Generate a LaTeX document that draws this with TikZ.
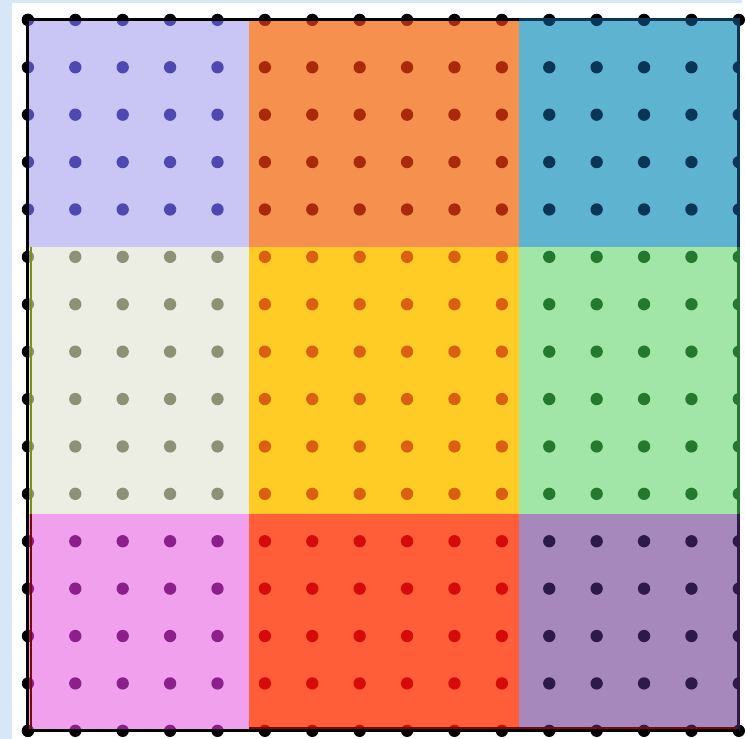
\documentclass[tikz,border=0pt]{standalone}
\definecolor{GSky}{HTML}{D8E7F5}
\definecolor{GLavender}{HTML}{C9C5F5}
\definecolor{GLavenderDot}{HTML}{4F48B0}
\definecolor{GOrange}{HTML}{F5904F}
\definecolor{GOrangeDot}{HTML}{A82A0A}
\definecolor{GTeal}{HTML}{5EB3D0}
\definecolor{GTealDot}{HTML}{0B3556}
\definecolor{GCream}{HTML}{ECEDE3}
\definecolor{GCreamDot}{HTML}{8E9178}
\definecolor{GGold}{HTML}{FFCB25}
\definecolor{GGoldDot}{HTML}{D9600F}
\definecolor{GMint}{HTML}{A1E6A7}
\definecolor{GMintDot}{HTML}{24792F}
\definecolor{GPink}{HTML}{F0A0EC}
\definecolor{GPinkDot}{HTML}{8D1F8D}
\definecolor{GRed}{HTML}{FF5E38}
\definecolor{GRedDot}{HTML}{D70A0A}
\definecolor{GPlum}{HTML}{A688BC}
\definecolor{GPlumDot}{HTML}{2E1A48}
\definecolor{GEdgeRed}{HTML}{7A0A0A}
\definecolor{GEdgeOlive}{HTML}{7E8E1A}
\usepackage{tikz}
\newcommand{\gpatch}[6]{% {x1}{y1}{x2}{y2}{fill}{dot colour}
  \begin{scope}
    \clip (#1,#2) rectangle (#3,#4);
    \fill[#5] (#1,#2) rectangle (#3,#4);
    \foreach \gx in {0,...,15}
      \foreach \gy in {0,...,15}
        \fill[#6] (\gx,\gy) circle (0.13);
  \end{scope}%
}

\begin{document}
\begin{tikzpicture}[x=1cm,y=1cm,frame/.style={line width=1.8pt}]
  % backdrop and white sheet
  \fill[GSky] (-0.589,-0.168) rectangle (15.063,15.42);
  \fill[white] (-0.337,-0.168) rectangle (15.063,15.357);
  % ticks on the outer lattice points
  \foreach \gx in {0,...,15} {
    \fill[black] (\gx,15) circle (0.13);
    \fill[black] (\gx,0) circle (0.13);
  }
  \foreach \gy in {0,...,15}
    \fill[black] (0,\gy) circle (0.13);
  % the nine patches
  \gpatch{0}{10.21}{4.667}{15}{GLavender}{GLavenderDot}
  \gpatch{4.667}{10.21}{10.36}{15}{GOrange}{GOrangeDot}
  \gpatch{10.36}{10.21}{15}{15}{GTeal}{GTealDot}
  \gpatch{0}{4.58}{4.667}{10.21}{GCream}{GCreamDot}
  \gpatch{4.667}{4.58}{10.36}{10.21}{GGold}{GGoldDot}
  \gpatch{10.36}{4.58}{15}{10.21}{GMint}{GMintDot}
  \gpatch{0}{0}{4.667}{4.58}{GPink}{GPinkDot}
  \gpatch{4.667}{0}{10.36}{4.58}{GRed}{GRedDot}
  \gpatch{10.36}{0}{15}{4.58}{GPlum}{GPlumDot}
  % inner edges
  \draw[GEdgeRed,line width=1.2pt] (0.06,0) -- (0.06,4.58);
  \draw[GEdgeOlive,line width=1.2pt] (0.06,4.58) -- (0.06,10.21);
  \draw[GEdgeRed,line width=1.2pt] (4.667,0.06) -- (15,0.06);
  % frame
  \draw[frame] (0,0) -- (0,15) -- (10.36,15);
  \draw[frame,GTealDot] (10.36,15) -- (15,15) -- (15,10.21);
  \draw[frame,GMintDot] (15,10.21) -- (15,4.58);
  \draw[frame,GPlumDot] (15,4.58) -- (15,0);
  \draw[frame] (0,0) -- (15,0);
\end{tikzpicture}
\end{document}
